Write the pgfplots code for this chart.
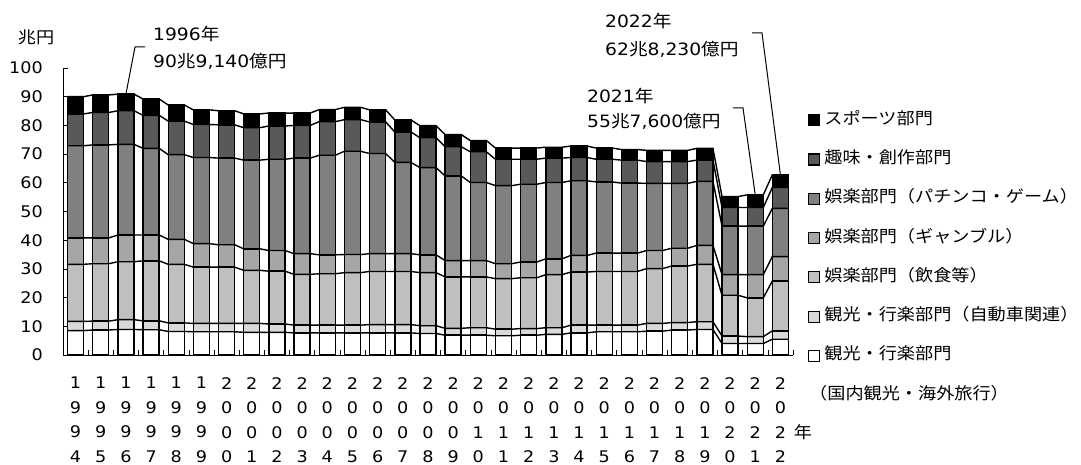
\documentclass[border=0pt]{standalone}
\usepackage{pgfplots}
\pgfplotsset{compat=1.18}
\usepackage{pgfplotstable}
\usepackage{fontspec}
\setmainfont{DejaVu Sans}[FakeStretch=1.1]
\newfontfamily\cjk{Noto Sans CJK JP}[FakeStretch=1.1]
\definecolor{cSport}{HTML}{000000}
\definecolor{cHobby}{HTML}{595959}
\definecolor{cPachi}{HTML}{808080}
\definecolor{cGamble}{HTML}{A6A6A6}
\definecolor{cFood}{HTML}{BFBFBF}
\definecolor{cAuto}{HTML}{D9D9D9}
\definecolor{cDom}{HTML}{FFFFFF}

% segment values (trillion yen), bottom to top
\pgfplotstableread{
yr d a f g p h s
1994 8.5 3.2 19.9 9.2 32.1 11.1 6.0
1995 8.7 3.1 20.0 9.0 32.4 11.3 6.1
1996 8.9 3.4 20.2 9.3 31.6 11.7 5.8
1997 8.8 3.1 20.9 9.0 30.2 11.5 5.7
1998 8.2 3.0 20.4 8.7 29.5 11.7 5.6
1999 8.1 2.9 19.6 8.2 30.0 11.5 5.1
2000 8.1 2.9 19.6 7.8 30.2 11.6 4.9
2001 7.9 3.1 18.5 7.5 30.9 11.3 4.8
2002 7.9 2.9 18.4 7.2 31.8 11.6 4.5
2003 7.7 2.7 17.7 7.2 33.3 11.4 4.3
2004 7.7 2.7 17.9 6.6 34.7 11.7 4.2
2005 7.7 2.7 18.3 6.3 36.0 11.0 4.3
2006 7.7 2.9 18.5 6.2 34.9 11.0 4.2
2007 7.7 2.9 18.5 6.2 31.8 10.6 4.2
2008 7.5 2.7 18.5 6.2 30.4 10.4 4.2
2009 6.9 2.4 17.9 5.7 29.5 10.2 4.2
2010 6.9 2.6 17.7 5.7 27.2 10.7 3.9
2011 6.7 2.3 17.6 5.2 27.2 9.2 3.9
2012 6.9 2.3 17.7 5.5 27.1 8.7 3.9
2013 7.2 2.3 18.5 5.5 26.6 8.5 3.8
2014 7.7 2.7 18.5 5.8 26.0 8.1 4.0
2015 8.1 2.3 18.7 6.4 24.8 7.9 3.9
2016 8.1 2.3 18.7 6.4 24.4 8.0 3.7
2017 8.3 2.7 19.1 6.3 23.4 7.6 3.9
2018 8.7 2.6 19.7 6.2 22.6 7.6 3.9
2019 8.9 2.7 20.0 6.6 22.3 7.4 4.1
2020 4.0 2.6 14.2 7.2 16.9 6.5 3.8
2021 4.0 2.4 13.5 8.1 16.9 6.5 4.4
2022 5.5 2.9 17.4 8.5 16.8 7.3 4.4
}\data
\pgfplotstablecreatecol[expr={\thisrow{d}}]{c1}\data
\pgfplotstablecreatecol[expr={\thisrow{c1}+\thisrow{a}}]{c2}\data
\pgfplotstablecreatecol[expr={\thisrow{c2}+\thisrow{f}}]{c3}\data
\pgfplotstablecreatecol[expr={\thisrow{c3}+\thisrow{g}}]{c4}\data
\pgfplotstablecreatecol[expr={\thisrow{c4}+\thisrow{p}}]{c5}\data
\pgfplotstablecreatecol[expr={\thisrow{c5}+\thisrow{h}}]{c6}\data
\pgfplotstablecreatecol[expr={\thisrow{c6}+\thisrow{s}}]{c7}\data

\newcommand\buildpts[2]{%
  \gdef#2{}%
  \pgfplotsforeachungrouped \i in {0,...,28}{%
    \pgfplotstablegetelem{\i}{#1}\of\data
    \pgfmathsetmacro\xa{\i-0.32}%
    \pgfmathsetmacro\xb{\i+0.32}%
    \xdef#2{#2 (\xa,\pgfplotsretval) (\xb,\pgfplotsretval)}%
  }%
}
\newcommand\serieslines[1]{%
  \edef\tmp{\noexpand\addplot[black, line width=1.4pt, line join=miter] coordinates {#1};}\tmp}

\begin{document}
\buildpts{c1}\ptsA
\buildpts{c2}\ptsB
\buildpts{c3}\ptsC
\buildpts{c4}\ptsD
\buildpts{c5}\ptsE
\buildpts{c6}\ptsF
\buildpts{c7}\ptsG
\begin{tikzpicture}
\path (0pt,0pt) rectangle (1081pt,465pt);
\begin{axis}[
  at={(63pt,110pt)}, anchor=south west,
  scale only axis, width=730pt, height=287pt,
  xmin=-0.5, xmax=28.5, ymin=0, ymax=100,
  ybar stacked, bar width=16pt,
  axis x line*=bottom, axis y line*=left,
  axis line style={black, line width=0.9pt},
  xtick={0,...,28},
  xticklabels={{1\\9\\9\\4},{1\\9\\9\\5},{1\\9\\9\\6},{1\\9\\9\\7},{1\\9\\9\\8},{1\\9\\9\\9},{2\\0\\0\\0},{2\\0\\0\\1},{2\\0\\0\\2},{2\\0\\0\\3},{2\\0\\0\\4},{2\\0\\0\\5},{2\\0\\0\\6},{2\\0\\0\\7},{2\\0\\0\\8},{2\\0\\0\\9},{2\\0\\1\\0},{2\\0\\1\\1},{2\\0\\1\\2},{2\\0\\1\\3},{2\\0\\1\\4},{2\\0\\1\\5},{2\\0\\1\\6},{2\\0\\1\\7},{2\\0\\1\\8},{2\\0\\1\\9},{2\\0\\2\\0},{2\\0\\2\\1},{2\\0\\2\\2}},
  major x tick style={draw=none},
  minor xtick={-0.5,0.5,...,28.5},
  minor tick length=5pt,
  major tick length=5pt,
  tick style={black, line width=0.6pt},
  ytick={0,10,...,100},
  tick align=inside,
  /pgf/number format/assume math mode=true,
  xticklabel style={align=center, font=\fontsize{16}{24.5}\selectfont, inner sep=0pt, yshift=-22pt},
  yticklabel style={font=\fontsize{16}{19}\selectfont, inner sep=0pt, xshift=-20pt},
  legend image code/.code={\draw[#1, line width=1.2pt] (0pt,-5.5pt) rectangle (11pt,5.5pt);},
  legend style={at={(1.0205,0.8467)}, anchor=north west, draw=none, fill=none,
     inner sep=0pt, row sep=23.3pt, column sep=4pt,
     font=\cjk\fontsize{16.5}{19}\selectfont,
     nodes={inner sep=0pt, text height=12pt, text depth=4pt}},
  legend cell align=left,
  reverse legend,
  clip=false,
]
\addplot[fill=cDom, draw=black, line width=1.4pt] table[x expr=\coordindex, y=d]{\data};
\addplot[fill=cAuto, draw=black, line width=1.4pt] table[x expr=\coordindex, y=a]{\data};
\addplot[fill=cFood, draw=black, line width=1.4pt] table[x expr=\coordindex, y=f]{\data};
\addplot[fill=cGamble, draw=black, line width=1.4pt] table[x expr=\coordindex, y=g]{\data};
\addplot[fill=cPachi, draw=black, line width=1.4pt] table[x expr=\coordindex, y=p]{\data};
\addplot[fill=cHobby, draw=black, line width=1.4pt] table[x expr=\coordindex, y=h]{\data};
\addplot[fill=cSport, draw=black, line width=1.4pt] table[x expr=\coordindex, y=s]{\data};
\legend{観光・行楽部門, 観光・行楽部門（自動車関連）, 娯楽部門（飲食等）, 娯楽部門（ギャンブル）, 娯楽部門（パチンコ・ゲーム）, 趣味・創作部門, スポーツ部門}
\coordinate (t96) at (axis cs:2,90.9);
\coordinate (t21) at (axis cs:27,55.8);
\coordinate (t22) at (axis cs:28,62.8);
\end{axis}
\begin{axis}[
  at={(63pt,110pt)}, anchor=south west,
  scale only axis, width=730pt, height=287pt,
  xmin=-0.5, xmax=28.5, ymin=0, ymax=100,
  hide axis, clip=false,
]
\serieslines{\ptsA}
\serieslines{\ptsB}
\serieslines{\ptsC}
\serieslines{\ptsD}
\serieslines{\ptsE}
\serieslines{\ptsF}
\serieslines{\ptsG}
\end{axis}
\draw[black, line width=1pt] (t96) -- (135pt,418pt) -- (145pt,418pt);
\draw[black, line width=1pt] (t21) -- (743pt,357pt) -- (733pt,357pt);
\draw[black, line width=1pt] (t22) -- (762pt,432pt) -- (752pt,432pt);
\tikzset{ann/.style={anchor=west, inner sep=0pt, font=\fontsize{17}{19}\selectfont}}
\node[ann] at (153pt,431pt) {1996{\cjk 年}};
\node[ann] at (153pt,404pt) {90{\cjk 兆}9,140{\cjk 億円}};
\node[ann] at (587pt,369pt) {2021{\cjk 年}};
\node[ann] at (587pt,344pt) {55{\cjk 兆}7,600{\cjk 億円}};
\node[ann] at (605pt,444pt) {2022{\cjk 年}};
\node[ann] at (605pt,416pt) {62{\cjk 兆}8,230{\cjk 億円}};
\node[anchor=center, inner sep=0pt, font=\cjk\fontsize{16.5}{19}\selectfont] at (36pt,428pt) {兆円};
\node[anchor=center, inner sep=0pt, font=\cjk\fontsize{16.5}{19}\selectfont] at (803pt,33pt) {年};
\node[anchor=west, inner sep=0pt, font=\cjk\fontsize{16.5}{19}\selectfont] at (809pt,72pt) {（国内観光・海外旅行）};
\end{tikzpicture}
\end{document}
